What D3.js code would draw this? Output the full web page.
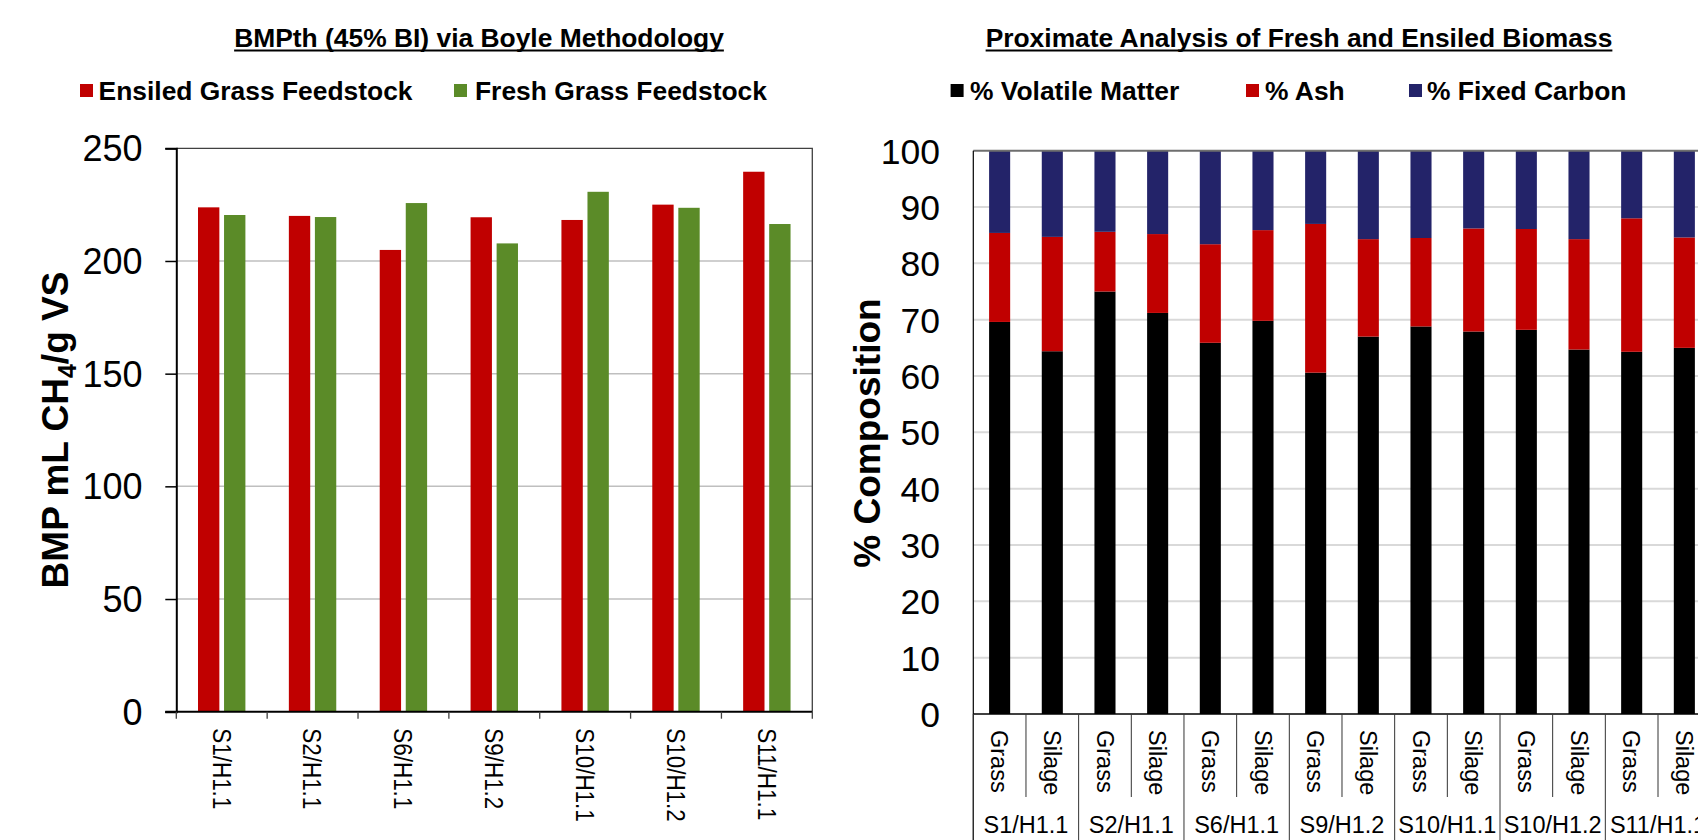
<!DOCTYPE html>
<html><head><meta charset="utf-8">
<script src="https://cdn.jsdelivr.net/npm/d3@7"></script>
<style>
html,body{margin:0;padding:0;background:#fff;overflow:hidden}
svg{display:block;font-family:"Liberation Sans",Arial,Helvetica,sans-serif}
</style>
</head><body>
<svg id="chart" width="1698" height="840"></svg>
<script>
// ---------- Data: left chart ----------
const bmpCategories = ["S1/H1.1","S2/H1.1","S6/H1.1","S9/H1.2","S10/H1.1","S10/H1.2","S11/H1.1"];
const bmpSeries = ["Ensiled Grass Feedstock","Fresh Grass Feedstock"];
const ensiledBMP = [223.8,220.0,204.9,219.4,218.2,225.0,239.6];
const freshBMP   = [220.4,219.5,225.7,207.8,230.7,223.6,216.4];
const bmpTicks = [0,50,100,150,200,250];

// ---------- Data: right chart ----------
const proxSites = ["S1/H1.1","S2/H1.1","S6/H1.1","S9/H1.2","S10/H1.1","S10/H1.2","S11/H1.1"];
const proxTypes = ["Grass","Silage"];
const proxSeries = ["% Volatile Matter","% Ash","% Fixed Carbon"];
const volatileMatter = [69.6,64.4,75.0,71.2,65.9,69.8,60.6,67.0,68.8,67.9,68.2,64.7,64.3,65.0];
const ashContent     = [15.8,20.3,10.6,14.0,17.5,16.1,26.4,17.3,15.7,18.3,17.9,19.6,23.7,19.6];
const fixedCarbon    = [14.6,15.3,14.4,14.8,16.6,14.1,13.0,15.7,15.5,13.8,13.9,15.7,12.0,15.4];
const proxTicks = [0,10,20,30,40,50,60,70,80,90,100];

const svg = d3.select("#chart");

// =============== LEFT CHART ===============
const L = {x0:176.3, x1:812.3, y0:711.7, y1:148.3};
const bmpColors = d3.scaleOrdinal().domain(bmpSeries).range(["#C00000","#5B8B28"]);
const xL = d3.scaleBand().domain(bmpCategories).range([L.x0, L.x1]).padding(0);
const xLs = d3.scaleBand().domain(bmpSeries).range([21.7, 69.1]).paddingInner(0.18);
const yL = d3.scaleLinear().domain([0,250]).range([L.y0, L.y1]);
const gL = svg.append("g");

// gridlines
gL.selectAll("line.grid").data(bmpTicks.filter(t => t > 0 && t < 250)).join("line")
  .attr("x1", L.x0).attr("x2", L.x1)
  .attr("y1", d => yL(d)).attr("y2", d => yL(d))
  .attr("stroke", "#BFBFBF").attr("stroke-width", 1.5);

// bars
const bmpData = bmpCategories.map((c,i) => ({cat:c, vals:[
  {s:bmpSeries[0], v:ensiledBMP[i]}, {s:bmpSeries[1], v:freshBMP[i]}]}));
gL.selectAll("g.cat").data(bmpData).join("g")
  .attr("transform", d => `translate(${xL(d.cat)},0)`)
  .selectAll("rect").data(d => d.vals).join("rect")
  .attr("x", d => xLs(d.s)).attr("width", xLs.bandwidth())
  .attr("y", d => yL(d.v)).attr("height", d => yL(0) - yL(d.v))
  .attr("fill", d => bmpColors(d.s));

// top/right border
gL.append("path").attr("d", `M${L.x0},${L.y1}H${L.x1}V${L.y0}`)
  .attr("fill","none").attr("stroke","#404040").attr("stroke-width",1.3);

// y axis
const axL = gL.append("g").attr("transform", `translate(${L.x0},0)`)
  .call(d3.axisLeft(yL).tickValues(bmpTicks).tickSize(11).tickPadding(22.8).tickFormat(d3.format("d")));
axL.select(".domain").attr("stroke","#000").attr("stroke-width",2);
axL.selectAll(".tick line").attr("stroke","#000").attr("stroke-width",1.5);
axL.selectAll(".tick text").attr("font-size",36).attr("fill","#000")
  .attr("font-family","'Liberation Sans',Arial,sans-serif").attr("dy","0.35em");

// x axis baseline + boundary ticks
gL.append("line").attr("x1", L.x0-11).attr("x2", L.x1).attr("y1", L.y0).attr("y2", L.y0)
  .attr("stroke","#000").attr("stroke-width",2);
const bounds = bmpCategories.map(c => xL(c)).concat([L.x1]);
gL.selectAll("line.xt").data(bounds).join("line")
  .attr("x1", d => d).attr("x2", d => d).attr("y1", L.y0).attr("y2", L.y0 + 7)
  .attr("stroke","#404040").attr("stroke-width",1.3);
gL.selectAll("text.xl").data(bmpCategories).join("text")
  .attr("transform", d => `translate(${xL(d) + xL.bandwidth()/2},${L.y0 + 16.6}) rotate(90) scale(0.88,1)`)
  .attr("dy","0.36em").attr("font-size",25.5).attr("fill","#000").text(d => d);

// y title
const ytL = gL.append("text").attr("transform","translate(68,430) rotate(-90)")
  .attr("text-anchor","middle").attr("font-weight","bold").attr("font-size",37).attr("fill","#000");
ytL.append("tspan").text("BMP mL CH");
ytL.append("tspan").attr("font-size",25).attr("dy",8).text("4");
ytL.append("tspan").attr("dy",-8).text("/g VS");

// title
function title(cx, txt){
  const t = svg.append("text").attr("x",cx).attr("y",47).attr("text-anchor","middle")
    .attr("font-weight","bold").attr("font-size",26.4).attr("fill","#000").text(txt);
  const w = t.node().getComputedTextLength();
  svg.append("line").attr("x1",cx-w/2).attr("x2",cx+w/2).attr("y1",50.5).attr("y2",50.5)
    .attr("stroke","#000").attr("stroke-width",2);
}
title(479, "BMPth (45% BI) via Boyle Methodology");
title(1299, "Proximate Analysis of Fresh and Ensiled Biomass");

// legends
function legend(items){
  items.forEach(it => {
    svg.append("rect").attr("x",it.sx).attr("y",84).attr("width",13).attr("height",13).attr("fill",it.color);
    svg.append("text").attr("x",it.tx).attr("y",100).attr("font-weight","bold")
      .attr("font-size",26.4).attr("fill","#000").text(it.label);
  });
}
legend([
  {sx:80, tx:98.6, color:bmpColors(bmpSeries[0]), label:bmpSeries[0]},
  {sx:454, tx:475, color:bmpColors(bmpSeries[1]), label:bmpSeries[1]}
]);

// =============== RIGHT CHART ===============
const R = {x0:973.3, y0:714, y1:150.7, step:52.67};
const nBars = proxSites.length * proxTypes.length;
R.x1 = R.x0 + nBars * R.step;
const proxColors = d3.scaleOrdinal().domain(proxSeries).range(["#000000","#C00000","#232369"]);
const proxRows = [];
proxSites.forEach((s,i) => proxTypes.forEach((t,j) => {
  const k = i*proxTypes.length + j;
  proxRows.push({key:s+"|"+t, site:s, type:t,
    "% Volatile Matter":volatileMatter[k], "% Ash":ashContent[k], "% Fixed Carbon":fixedCarbon[k]});
}));
const xR = d3.scaleBand().domain(proxRows.map(d => d.key)).range([R.x0, R.x1]).paddingInner(0.6).paddingOuter(0.3);
const yR = d3.scaleLinear().domain([0,100]).range([R.y0, R.y1]);
const gR = svg.append("g");

gR.selectAll("line.grid").data(proxTicks.filter(t => t > 0 && t < 100)).join("line")
  .attr("x1", R.x0).attr("x2", R.x1).attr("y1", d => yR(d)).attr("y2", d => yR(d))
  .attr("stroke","#D9D9D9").attr("stroke-width",2);

const stack = d3.stack().keys(proxSeries)(proxRows);
gR.selectAll("g.layer").data(stack).join("g")
  .attr("fill", d => proxColors(d.key))
  .selectAll("rect").data(d => d).join("rect")
  .attr("x", d => xR(d.data.key)).attr("width", xR.bandwidth())
  .attr("y", d => yR(d[1])).attr("height", d => yR(d[0]) - yR(d[1]));

// top border, left axis, bottom axis
gR.append("line").attr("x1",R.x0).attr("x2",R.x1).attr("y1",R.y1).attr("y2",R.y1)
  .attr("stroke","#6E6E6E").attr("stroke-width",2);
gR.append("line").attr("x1",R.x0).attr("x2",R.x0).attr("y1",R.y1).attr("y2",840)
  .attr("stroke","#000").attr("stroke-width",1.2);
gR.append("line").attr("x1",R.x0).attr("x2",R.x1).attr("y1",R.y0).attr("y2",R.y0)
  .attr("stroke","#000").attr("stroke-width",1.5);

// y axis labels
const axR = gR.append("g").attr("transform",`translate(${R.x0},0)`)
  .call(d3.axisLeft(yR).tickValues(proxTicks).tickSize(0).tickPadding(33.3).tickFormat(d3.format("d")));
axR.select(".domain").remove();
axR.selectAll(".tick text").attr("font-size",35.5).attr("fill","#000")
  .attr("font-family","'Liberation Sans',Arial,sans-serif").attr("dy","0.35em");

// category separators
const pairBounds = proxSites.map((s,i) => R.x0 + (2*i+1)*R.step);
gR.selectAll("line.sep1").data(pairBounds).join("line")
  .attr("x1",d=>d).attr("x2",d=>d).attr("y1",R.y0).attr("y2",797)
  .attr("stroke","#333").attr("stroke-width",1);
const groupBounds = proxSites.map((s,i) => R.x0 + 2*i*R.step).concat([R.x1]);
gR.selectAll("line.sep2").data(groupBounds).join("line")
  .attr("x1",d=>d).attr("x2",d=>d).attr("y1",R.y0).attr("y2",840)
  .attr("stroke","#333").attr("stroke-width",1);

// type labels
gR.selectAll("text.type").data(proxRows).join("text")
  .attr("transform", d => `translate(${xR(d.key) + xR.bandwidth()/2},${R.y0 + 16}) rotate(90)`)
  .attr("dy","0.36em").attr("font-size",23.5).attr("fill","#000").text(d => d.type);
// site labels
gR.selectAll("text.site").data(proxSites).join("text")
  .attr("x", (d,i) => R.x0 + (2*i+1)*R.step).attr("y",833)
  .attr("text-anchor","middle").attr("font-size",23.5).attr("fill","#000").text(d => d);

// y title
gR.append("text").attr("transform","translate(880,433) rotate(-90)")
  .attr("text-anchor","middle").attr("font-weight","bold").attr("font-size",37).attr("fill","#000")
  .text("% Composition");

legend([
  {sx:950.6, tx:970, color:proxColors(proxSeries[0]), label:proxSeries[0]},
  {sx:1246, tx:1265, color:proxColors(proxSeries[1]), label:proxSeries[1]},
  {sx:1409, tx:1427, color:proxColors(proxSeries[2]), label:proxSeries[2]}
]);
</script>
</body></html>
